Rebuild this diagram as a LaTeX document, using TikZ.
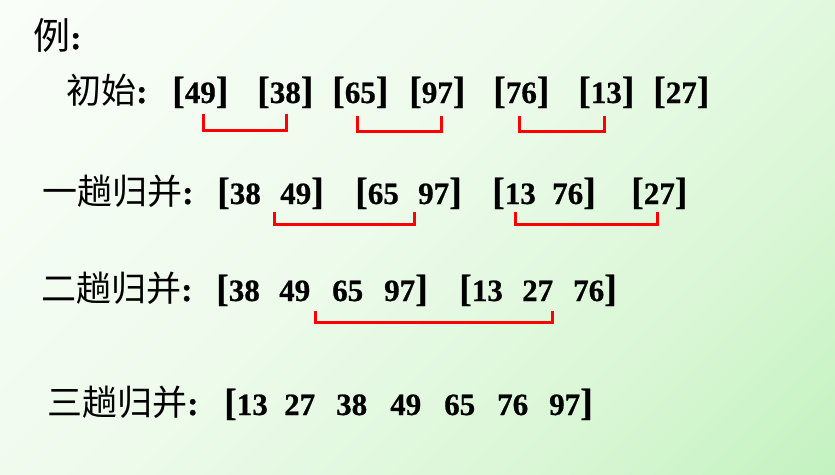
\documentclass[tikz,border=0pt]{standalone}
\usepackage{fontspec}
\setmainfont{Liberation Serif}
\newfontfamily\cjk{Noto Sans CJK SC}
\newfontfamily\numfont{Liberation Serif}[FakeBold=0.7]
\definecolor{bgA}{HTML}{B0EFAE}
\definecolor{bgB}{HTML}{D8F6D4}
\definecolor{bgC}{HTML}{EEFBEC}
\pgfdeclareverticalshading{bgshade}{100bp}{color(0bp)=(bgA); color(30bp)=(bgB); color(55bp)=(bgC); color(100bp)=(white)}
\newcommand\mylb{{\fontsize{38}{38}\selectfont[}}
\newcommand\myrb{{\fontsize{38}{38}\selectfont]}}
\tikzset{
  num/.style={anchor=base west, inner sep=0pt, font=\fontsize{31}{31}\selectfont\numfont\bfseries},
  lab/.style={anchor=base west, inner sep=0pt, font=\fontsize{35}{35}\selectfont\cjk},
  colon/.style={anchor=base west, inner sep=0pt, font=\fontsize{34}{34}\selectfont\numfont\bfseries},
  merge/.style={draw=red, line width=3pt, line join=miter}
}
\begin{document}
\begin{tikzpicture}[x=1pt,y=-1pt]
\useasboundingbox (0,0) rectangle (835,474);
\shade[shading=bgshade, shading angle=45] (0,0) rectangle (835,474);

% title
\node[anchor=base west, inner sep=0pt, font=\fontsize{37}{37}\selectfont\cjk] (ex) at (33,49) {例};
\node[colon] (exc) at (70,49) {:};

% row 1
\node[lab] (l1) at (66,103) {初始};
\node[colon] (l1c) at (136,103) {:};
\node[num] (r1a) at (172,103) {\mylb 49\myrb};
\node[num] (r1b) at (257,103) {\mylb 38\myrb};
\node[num] (r1c) at (332,103) {\mylb 65\myrb};
\node[num] (r1d) at (409,103) {\mylb 97\myrb};
\node[num] (r1e) at (493,103) {\mylb 76\myrb};
\node[num] (r1f) at (578,103) {\mylb 13\myrb};
\node[num] (r1g) at (653,103) {\mylb 27\myrb};

% row 2
\node[lab] (l2) at (42,204) {一趟归并};
\node[colon] (l2c) at (182,204) {:};
\node[num] (r2a) at (217,204) {\mylb 38};
\node[num] (r2b) at (280,204) {49\myrb};
\node[num] (r2c) at (355,204) {\mylb 65};
\node[num] (r2d) at (418,204) {97\myrb};
\node[num] (r2e) at (492,204) {\mylb 13};
\node[num] (r2f) at (552,204) {76\myrb};
\node[num] (r2g) at (631,204) {\mylb 27\myrb};

% row 3
\node[lab] (l3) at (41,301) {二趟归并};
\node[colon] (l3c) at (181,301) {:};
\node[num] (r3a) at (216,301) {\mylb 38};
\node[num] (r3b) at (279,301) {49};
\node[num] (r3c) at (332,301) {65};
\node[num] (r3d) at (384,301) {97\myrb};
\node[num] (r3e) at (459,301) {\mylb 13};
\node[num] (r3f) at (522,301) {27};
\node[num] (r3g) at (573,301) {76\myrb};

% row 4
\node[lab] (l4) at (47,415) {三趟归并};
\node[colon] (l4c) at (187,415) {:};
\node[num] (r4a) at (224,415) {\mylb 13};
\node[num] (r4b) at (284,415) {27};
\node[num] (r4c) at (336,415) {38};
\node[num] (r4d) at (390,415) {49};
\node[num] (r4e) at (444,415) {65};
\node[num] (r4f) at (497,415) {76};
\node[num] (r4g) at (549,415) {97\myrb};

% merge brackets
\coordinate (m1a) at (203,114); \coordinate (m1b) at (286,114);
\coordinate (m2a) at (357,116); \coordinate (m2b) at (441,116);
\coordinate (m3a) at (519,116); \coordinate (m3b) at (604,116);
\coordinate (m4a) at (274,212); \coordinate (m4b) at (414,212);
\coordinate (m5a) at (515,212); \coordinate (m5b) at (657,212);
\coordinate (m6a) at (315,311); \coordinate (m6b) at (552,311);

\draw[merge] (m1a) -- ++(0,16) -| (m1b);
\draw[merge] (m2a) -- ++(0,15) -| (m2b);
\draw[merge] (m3a) -- ++(0,15) -| (m3b);
\draw[merge] (m4a) -- ++(0,12) -| (m4b);
\draw[merge] (m5a) -- ++(0,12) -| (m5b);
\draw[merge] (m6a) -- ++(0,11) -| (m6b);
\end{tikzpicture}
\end{document}
